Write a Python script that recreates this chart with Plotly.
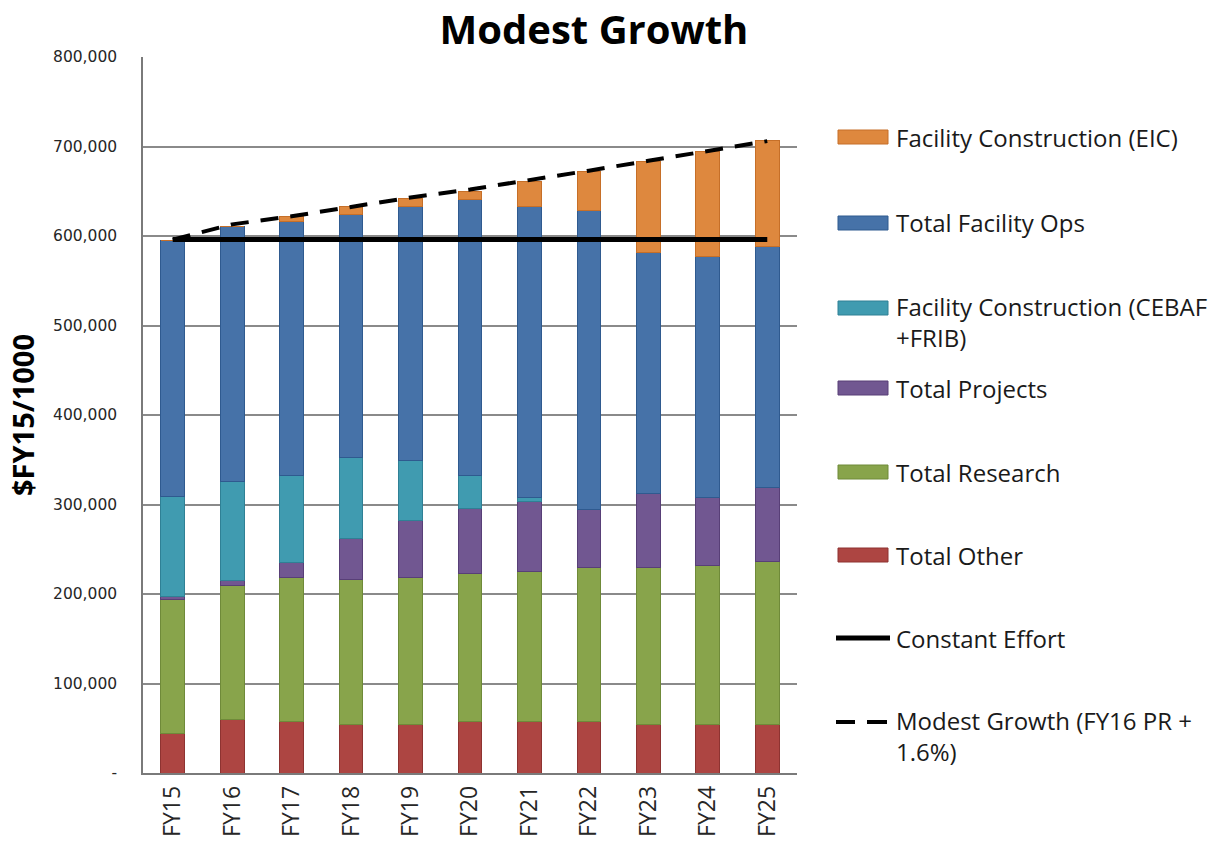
import plotly.graph_objects as go

# Fiscal years on the x axis
years = ["FY15", "FY16", "FY17", "FY18", "FY19", "FY20", "FY21", "FY22", "FY23", "FY24", "FY25"]

# Stacked components, $FY15/1000 (bottom to top)
total_other = [43600, 60000, 57300, 54700, 54700, 57300, 57300, 57300, 54700, 54700, 54700]
total_research = [150400, 149600, 161200, 161600, 163800, 165700, 167500, 172400, 174600, 177300, 181700]
total_projects = [3500, 5200, 16800, 45800, 64100, 72600, 78200, 64800, 83100, 75500, 82700]
fac_constr_cebaf_frib = [111700, 111300, 97100, 90800, 67000, 36800, 4900, 0, 0, 0, 0]
total_facility_ops = [285900, 284000, 284100, 270600, 282900, 308600, 324600, 333900, 269500, 269100, 268700]
fac_constr_eic = [0, 0, 4800, 9000, 8900, 9000, 28600, 43900, 101600, 118000, 118800]

# Reference funding levels
constant_effort = [596000] * len(years)
modest_growth = [596000, 613000, 622000, 633000, 643000, 652000, 662000, 673000, 684000, 695000, 706000]

y_tick_vals = [0, 100000, 200000, 300000, 400000, 500000, 600000, 700000, 800000]
y_tick_text = ["-", "100,000", "200,000", "300,000", "400,000", "500,000", "600,000", "700,000", "800,000"]

series_names = [
    "Total Other",
    "Total Research",
    "Total Projects",
    "Facility Construction (CEBAF<br>+FRIB)",
    "Total Facility Ops",
    "Facility Construction (EIC)",
]
series_values = [total_other, total_research, total_projects,
                 fac_constr_cebaf_frib, total_facility_ops, fac_constr_eic]
fill_colors = ["#ad4542", "#88a44b", "#715791", "#409bb0", "#4672a8", "#de883e"]
edge_colors = ["#8e3331", "#6f8a39", "#583f77", "#2f8095", "#2f5a8f", "#c66f28"]

W, H = 1217, 845
PLOT_L, PLOT_R, PLOT_T, PLOT_B = 143, 797, 57, 773

fig = go.Figure()
for name, vals, color, edge in zip(series_names, series_values, fill_colors, edge_colors):
    fig.add_trace(go.Bar(
        x=years, y=vals, name=name, showlegend=False,
        marker=dict(color=color, line=dict(color=edge, width=1)),
    ))

fig.add_trace(go.Scatter(
    x=years, y=constant_effort, mode="lines", name="Constant Effort", showlegend=False,
    line=dict(color="black", width=5),
))
fig.add_trace(go.Scatter(
    x=years, y=modest_growth, mode="lines", name="Modest Growth (FY16 PR +<br>1.6%)", showlegend=False,
    line=dict(color="black", width=4, dash="18px,12px"),
))


def px_x(x):
    return (x - PLOT_L) / (PLOT_R - PLOT_L)


def px_y(y):
    return (PLOT_B - y) / (PLOT_B - PLOT_T)


# Legend at the right of the plot, top entry first: (label, kind, series index, swatch y, text y)
legend_rows = [
    ("Facility Construction (EIC)", "bar", 5, 137, 137),
    ("Total Facility Ops", "bar", 4, 223, 223),
    ("Facility Construction (CEBAF<br>+FRIB)", "bar", 3, 308, 322),
    ("Total Projects", "bar", 2, 388, 388),
    ("Total Research", "bar", 1, 472, 472),
    ("Total Other", "bar", 0, 555, 555),
    ("Constant Effort", "solid", None, 638, 638),
    ("Modest Growth (FY16 PR +<br>1.6%)", "dash", None, 722, 736),
]
shapes = []
annotations = []
for label, kind, idx, sy, ty in legend_rows:
    if kind == "bar":
        shapes.append(dict(type="rect", xref="paper", yref="paper",
                           x0=px_x(838), x1=px_x(888), y0=px_y(sy + 7), y1=px_y(sy - 7),
                           fillcolor=fill_colors[idx], line=dict(color=edge_colors[idx], width=1)))
    elif kind == "solid":
        shapes.append(dict(type="line", xref="paper", yref="paper",
                           x0=px_x(836), x1=px_x(890), y0=px_y(sy), y1=px_y(sy),
                           line=dict(color="black", width=5)))
    else:
        for a, b in [(836, 855), (867, 887)]:
            shapes.append(dict(type="line", xref="paper", yref="paper",
                               x0=px_x(a), x1=px_x(b), y0=px_y(sy), y1=px_y(sy),
                               line=dict(color="black", width=4)))
    annotations.append(dict(
        text=label, xref="paper", yref="paper",
        x=px_x(894), y=px_y(ty),
        xanchor="left", yanchor="middle", align="left", showarrow=False,
        font=dict(family="Open Sans", size=24, color="#1a1a1a"),
    ))

fig.update_layout(
    width=W, height=H,
    margin=dict(l=PLOT_L, r=W - PLOT_R, t=PLOT_T, b=H - PLOT_B),
    barmode="stack", bargap=0.6,
    plot_bgcolor="white", paper_bgcolor="white",
    title=dict(text="<b>Modest Growth</b>", x=594 / W, xanchor="center", y=1 - 30 / H, yanchor="middle",
               font=dict(family="Open Sans", size=40, color="black")),
    shapes=shapes, annotations=annotations,
    showlegend=False,
)
fig.update_yaxes(
    range=[0, 800000], tickvals=y_tick_vals, ticktext=y_tick_text,
    showgrid=True, gridcolor="#8a8a8a", gridwidth=1.5,
    showline=True, linecolor="#7a7a7a", linewidth=1.5,
    ticks="", ticklabelstandoff=21, automargin=False,
    tickfont=dict(family="DejaVu Sans", size=15.5, color="#262626"),
    title=dict(text="<b>$FY15/1000</b>", font=dict(family="Open Sans", size=29, color="black"), standoff=10),
    zeroline=False,
)
fig.update_xaxes(
    showline=True, linecolor="#7a7a7a", linewidth=1.5, mirror=False,
    tickangle=-90, ticks="", ticklabelstandoff=2, automargin=False,
    tickfont=dict(family="Open Sans", size=23, color="#262626"),
)

fig.write_html("out.html")
